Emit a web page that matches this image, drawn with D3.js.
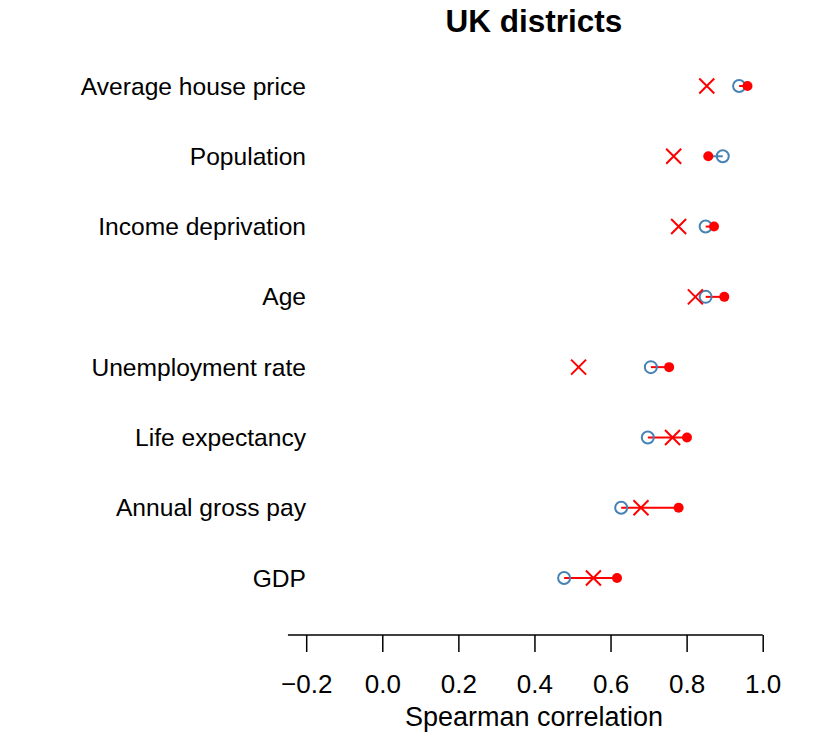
<!DOCTYPE html>
<html>
<head>
<meta charset="utf-8">
<script src="https://cdn.jsdelivr.net/npm/d3@7"></script>
<style>
  body { margin: 0; background: #fff; }
  text { font-family: "Liberation Sans", Arial, sans-serif; fill: #000; }
</style>
</head>
<body>
<svg id="chart" width="814" height="733"></svg>
<script>
var categories = ['Average house price', 'Population', 'Income deprivation', 'Age',
  'Unemployment rate', 'Life expectancy', 'Annual gross pay', 'GDP'];
// open blue circles
var circleVals = [0.938, 0.895, 0.850, 0.850, 0.706, 0.698, 0.628, 0.478];
// filled red dots
var dotVals = [0.960, 0.857, 0.872, 0.899, 0.754, 0.801, 0.779, 0.617];
// red crosses
var crossVals = [0.853, 0.766, 0.779, 0.823, 0.516, 0.763, 0.680, 0.555];
var tickVals = [-0.2, 0.0, 0.2, 0.4, 0.6, 0.8, 1.0];

var red = '#ff0000', blue = '#4682b4';

var data = categories.map(function(c, i) {
  return { name: c, circle: circleVals[i], dot: dotVals[i], cross: crossVals[i] };
});

var svg = d3.select('#chart');

var x = d3.scaleLinear().domain([-0.2, 1]).range([306.2, 762.7]);
var y = d3.scalePoint().domain(categories).range([86, 578]);

// title
svg.append('text')
  .attr('x', 534).attr('y', 32)
  .attr('text-anchor', 'middle')
  .style('font-size', '31.5px')
  .style('font-weight', 'bold')
  .text('UK districts');

// category labels
svg.selectAll('.cat')
  .data(categories)
  .enter()
  .append('text')
  .attr('class', 'cat')
  .attr('x', 306)
  .attr('y', d => y(d))
  .attr('dy', '0.35em')
  .attr('text-anchor', 'end')
  .style('font-size', '24.6px')
  .text(d => d);

// x axis
var axis = svg.append('g')
  .attr('transform', 'translate(0,635)')
  .call(d3.axisBottom(x).tickValues(tickVals).tickSize(17).tickPadding(23)
    .tickFormat(d3.format('.1f')));
axis.select('.domain').remove();
axis.append('line')
  .attr('x1', x(-0.248)).attr('x2', x(1))
  .attr('stroke', '#000').attr('stroke-width', 1.5);
axis.selectAll('.tick line').attr('stroke-width', 1.5);
axis.selectAll('.tick text')
  .style('font-size', '26px')
  .style('font-family', '"Liberation Sans", Arial, sans-serif')
  .attr('fill', '#000');

svg.append('text')
  .attr('x', 534).attr('y', 726)
  .attr('text-anchor', 'middle')
  .style('font-size', '27px')
  .text('Spearman correlation');

// rows
var rows = svg.selectAll('.row')
  .data(data)
  .enter()
  .append('g')
  .attr('class', 'row')
  .attr('transform', d => 'translate(0,' + y(d.name) + ')');

rows.append('line')
  .attr('x1', d => x(d.circle))
  .attr('x2', d => x(d.dot))
  .attr('stroke', d => (d.dot >= d.circle ? red : blue))
  .attr('stroke-width', 2);

rows.append('circle')
  .attr('cx', d => x(d.circle))
  .attr('r', 6)
  .attr('fill', 'none')
  .attr('stroke', blue)
  .attr('stroke-width', 2);

rows.append('path')
  .attr('d', d => {
    var cx = x(d.cross), s = 7.5;
    return 'M' + (cx - s) + ',' + (-s) + 'L' + (cx + s) + ',' + s +
      'M' + (cx - s) + ',' + s + 'L' + (cx + s) + ',' + (-s);
  })
  .attr('stroke', red)
  .attr('stroke-width', 2)
  .attr('fill', 'none');

rows.append('circle')
  .attr('cx', d => x(d.dot))
  .attr('r', 5)
  .attr('fill', red);
</script>
</body>
</html>
